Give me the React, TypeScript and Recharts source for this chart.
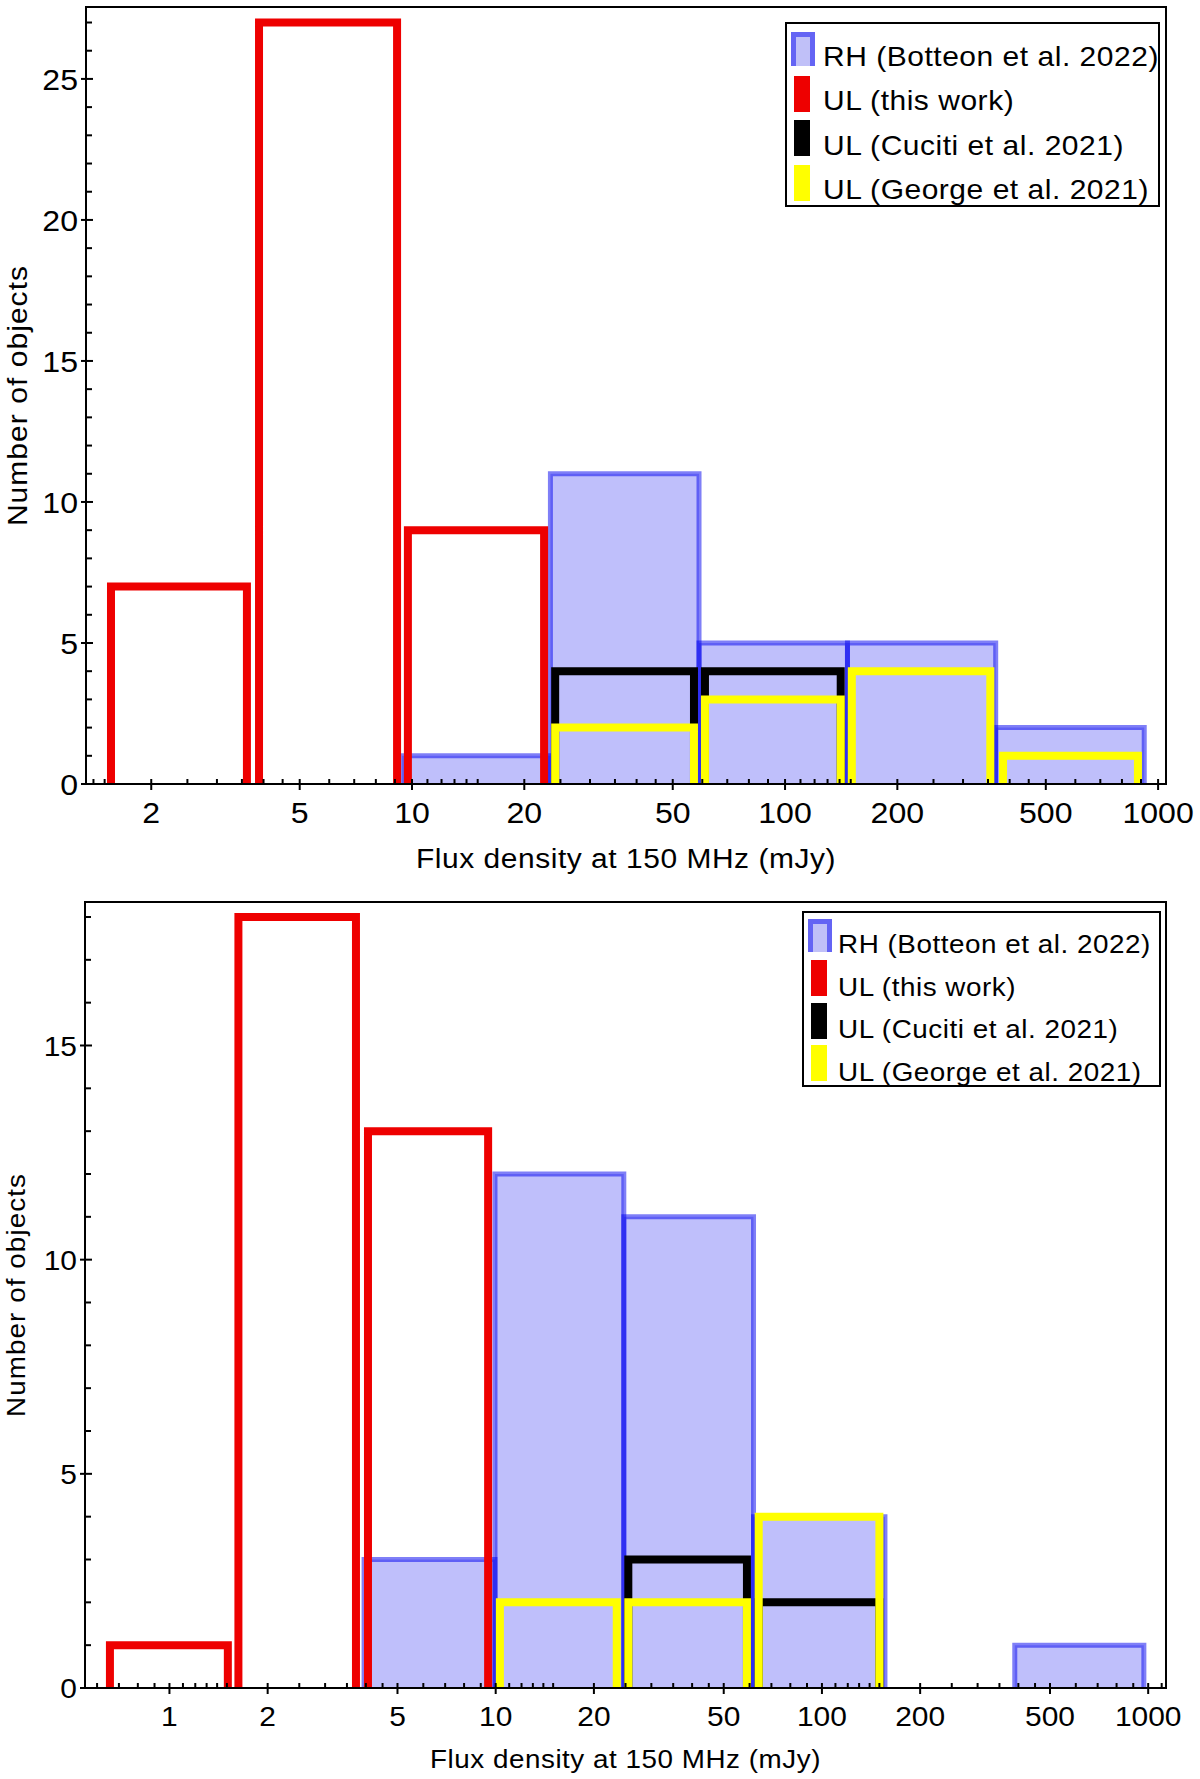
import React from "react";
import { Area, ComposedChart, Legend, Line, ReferenceArea, XAxis, YAxis } from "recharts";

// each bin: [from (mJy), to (mJy), number of objects]
type Bin = [number, number, number];

// upper panel
const TOP_RH: Bin[] = [[9.4, 23.5, 1], [23.5, 58.8, 11], [58.8, 147, 5], [147, 367, 5], [367, 918, 2]];
const TOP_UL_THIS: Bin[] = [[1.56, 3.61, 7], [3.89, 9.12, 27], [9.75, 22.6, 9]];
const TOP_UL_CUCITI: Bin[] = [[24.2, 57, 4], [61, 141, 4]];
const TOP_UL_GEORGE: Bin[] = [[24.2, 57, 2], [61, 141, 3], [151, 355, 4], [384, 883, 1]];

// lower panel
const BOT_RH: Bin[] = [[3.95, 9.95, 3], [9.95, 24.7, 12], [24.7, 61.7, 11], [61.7, 156, 4], [390, 970, 1]];
const BOT_UL_THIS: Bin[] = [[0.657, 1.51, 1], [1.627, 3.73, 18], [4.06, 9.48, 13]];
const BOT_UL_CUCITI: Bin[] = [[25.5, 58.9, 3], [64, 150, 2]];
const BOT_UL_GEORGE: Bin[] = [[10.3, 23.5, 2], [25.5, 58.9, 2], [64, 150, 4]];

const TOP_X_DOMAIN = [1.337, 1050];
const BOT_X_DOMAIN = [0.551, 1134];
const TOP_Y_MAX = 27.55;
const BOT_Y_MAX = 18.35;

const TOP_X_TICKS = [
  1.4, 1.5, 2, 2.5, 3, 3.5, 4, 4.5, 5, 6, 7, 8, 9, 10, 11, 12, 13, 14, 15, 20, 25, 30, 35, 40, 45, 50,
  60, 70, 80, 90, 100, 110, 120, 130, 140, 150, 200, 250, 300, 350, 400, 450, 500, 600, 700, 800, 900, 1000,
];
const BOT_X_TICKS = [
  0.6, 0.7, 0.8, 0.9, 1, 1.1, 1.2, 1.3, 1.4, 1.5, 2, 2.5, 3, 3.5, 4, 4.5, 5, 6, 7, 8, 9, 10, 11, 12, 13, 14,
  15, 20, 25, 30, 35, 40, 45, 50, 60, 70, 80, 90, 100, 110, 120, 130, 140, 150, 200, 250, 300, 350, 400,
  450, 500, 600, 700, 800, 900, 1000, 1100,
];
const X_LABELED = [1, 2, 5, 10, 20, 50, 100, 200, 500, 1000];
const TOP_Y_TICKS = [0, 1, 2, 3, 4, 5, 6, 7, 8, 9, 10, 11, 12, 13, 14, 15, 16, 17, 18, 19, 20, 21, 22, 23, 24, 25, 26, 27];
const BOT_Y_TICKS = [0, 1, 2, 3, 4, 5, 6, 7, 8, 9, 10, 11, 12, 13, 14, 15, 16, 17, 18];

const LEGEND_LABELS = [
  "RH (Botteon et al. 2022)",
  "UL (this work)",
  "UL (Cuciti et al. 2021)",
  "UL (George et al. 2021)",
];

const X_TITLE = "Flux density at 150 MHz (mJy)";
const Y_TITLE = "Number of objects";

const FONT = '"Liberation Sans", Arial, Helvetica, sans-serif';
const STRETCH = 1.07; // the original lettering is a little wide
const RH_COLOR = "#0000f0";
const THIS_COLOR = "#ee0000";
const CUCITI_COLOR = "#000000";
const GEORGE_COLOR = "#ffff00";

const TOP_LAYOUT = {
  height: 880,
  marginTop: 7,
  yAxisWidth: 86,
  xAxisHeight: 96,
  tickFont: 30,
  titleFont: 28,
  titleSpacing: 0.5,
  yTitleSpacing: 1,
  tickBase: 39,
  titleBase: 84,
  yTitleX: 17,
  legend: { left: 785, top: 22, width: 375, height: 185, blueTop: 8, firstTop: 52, gap: 44.3, textLeft: 36, textMid: 33, blueH: 34 },
};

const BOT_LAYOUT = {
  height: 899,
  marginTop: 22,
  yAxisWidth: 85,
  xAxisHeight: 91,
  tickFont: 28,
  titleFont: 26,
  titleSpacing: 0.5,
  yTitleSpacing: 1,
  tickBase: 38,
  titleBase: 80,
  yTitleX: 16,
  legend: { left: 802, top: 31, width: 359, height: 176, blueTop: 6, firstTop: 47, gap: 42.5, textLeft: 34, textMid: 31, blueH: 33 },
};

// three-sided outline of one bar (open at the bottom)
function barOutline(bin: Bin) {
  const [from, to, count] = bin;
  return [
    { x: from, y: 0 },
    { x: from, y: count },
    { x: to, y: count },
    { x: to, y: 0 },
  ];
}

// outlines of all bars of a histogram, broken between bars
function histOutline(bins: Bin[]) {
  const points: { x: number; y: number | null }[] = [];
  bins.forEach((bin, i) => {
    if (i > 0) points.push({ x: bin[0], y: null });
    points.push(...barOutline(bin));
  });
  return points;
}

function SText({ x, y, dy = 0, anchor, size, spacing = 0, rotate = false, children }: any) {
  const transform = `translate(${x},${y})${rotate ? " rotate(-90)" : ""} scale(${STRETCH},1)`;
  return (
    <text
      transform={transform}
      x={0}
      y={dy}
      textAnchor={anchor}
      fontSize={size}
      letterSpacing={spacing}
      fontFamily={FONT}
      fill="#000"
    >
      {children}
    </text>
  );
}

function XTick(props: any) {
  const { x, y, payload, layout } = props;
  const value = payload.value;
  const major = X_LABELED.includes(value);
  return (
    <g>
      <line x1={x} x2={x} y1={y - 5} y2={major ? y + 6 : y} stroke="#000" strokeWidth={2} />
      {major && (
        <SText x={x} y={y + layout.tickBase} anchor="middle" size={layout.tickFont}>
          {value}
        </SText>
      )}
    </g>
  );
}

function YTick(props: any) {
  const { x, y, payload, layout } = props;
  const value = payload.value;
  const major = value % 5 === 0;
  return (
    <g>
      <line x1={major ? x - 5 : x} x2={x + (major ? 7 : 6)} y1={y} y2={y} stroke="#000" strokeWidth={2} />
      {major && (
        <SText x={x - 8} y={y + layout.tickFont * 0.36} anchor="end" size={layout.tickFont}>
          {value}
        </SText>
      )}
    </g>
  );
}

function XTitle(props: any) {
  const { viewBox, layout } = props;
  const vb = viewBox || { x: 86, y: 784, width: 1080, height: 96 };
  return (
    <SText
      x={vb.x + vb.width / 2}
      y={vb.y + layout.titleBase}
      anchor="middle"
      size={layout.titleFont}
      spacing={layout.titleSpacing}
    >
      {X_TITLE}
    </SText>
  );
}

function YTitle(props: any) {
  const { viewBox, layout } = props;
  const vb = viewBox || { x: 0, y: 7, width: 86, height: 777 };
  return (
    <SText
      x={vb.x + layout.yTitleX}
      y={vb.y + vb.height / 2}
      dy={layout.titleFont * 0.36}
      rotate
      anchor="middle"
      size={layout.titleFont}
      spacing={layout.yTitleSpacing}
    >
      {Y_TITLE}
    </SText>
  );
}

function LegendBox({ layout }: { layout: typeof TOP_LAYOUT }) {
  const L = layout.legend;
  const swatchColors = [THIS_COLOR, CUCITI_COLOR, GEORGE_COLOR];
  return (
    <div
      style={{
        position: "relative",
        width: L.width,
        height: L.height,
        boxSizing: "border-box",
        border: "2px solid #000",
        background: "#fff",
        fontFamily: FONT,
      }}
    >
      <div
        style={{
          position: "absolute",
          left: 4,
          top: L.blueTop,
          width: 24,
          height: L.blueH,
          boxSizing: "border-box",
          borderLeft: "5px solid #6464f4",
          borderTop: "5px solid #6464f4",
          borderRight: "5px solid #6464f4",
          background: "#c0c0f8",
        }}
      />
      {swatchColors.map((color, i) => (
        <div
          key={color}
          style={{ position: "absolute", left: 7, top: L.firstTop + i * L.gap, width: 16, height: 36, background: color }}
        />
      ))}
      {LEGEND_LABELS.map((label, i) => (
        <span
          key={label}
          style={{
            position: "absolute",
            left: L.textLeft,
            top: L.textMid + i * L.gap,
            transform: `translateY(-50%) scaleX(${STRETCH})`,
            transformOrigin: "left center",
            lineHeight: 1,
            fontSize: layout.titleFont,
            letterSpacing: layout.titleSpacing,
            whiteSpace: "nowrap",
            color: "#000",
          }}
        >
          {label}
        </span>
      ))}
    </div>
  );
}

type PanelProps = {
  layout: typeof TOP_LAYOUT;
  rh: Bin[];
  ulThis: Bin[];
  ulCuciti: Bin[];
  ulGeorge: Bin[];
  xDomain: number[];
  yMax: number;
  xTicks: number[];
  yTicks: number[];
};

function Panel({ layout, rh, ulThis, ulCuciti, ulGeorge, xDomain, yMax, xTicks, yTicks }: PanelProps) {
  const L = layout.legend;
  return (
    <ComposedChart width={1200} height={layout.height} margin={{ top: layout.marginTop, right: 34, bottom: 0, left: 0 }}>
      {rh.map((bin, i) => (
        <Area
          key={`rh-${i}`}
          data={barOutline(bin)}
          dataKey="y"
          type="linear"
          baseValue={0}
          fill={RH_COLOR}
          fillOpacity={0.25}
          stroke={RH_COLOR}
          strokeOpacity={0.5}
          strokeWidth={5}
          dot={false}
          activeDot={false}
          isAnimationActive={false}
        />
      ))}
      <Line
        data={histOutline(ulThis)}
        dataKey="y"
        type="linear"
        stroke={THIS_COLOR}
        strokeWidth={8}
        connectNulls={false}
        dot={false}
        activeDot={false}
        isAnimationActive={false}
      />
      <Line
        data={histOutline(ulCuciti)}
        dataKey="y"
        type="linear"
        stroke={CUCITI_COLOR}
        strokeWidth={8}
        connectNulls={false}
        dot={false}
        activeDot={false}
        isAnimationActive={false}
      />
      <Line
        data={histOutline(ulGeorge)}
        dataKey="y"
        type="linear"
        stroke={GEORGE_COLOR}
        strokeWidth={8}
        connectNulls={false}
        dot={false}
        activeDot={false}
        isAnimationActive={false}
      />
      {/* plot frame */}
      <ReferenceArea
        x1={xDomain[0]}
        x2={xDomain[1]}
        y1={0}
        y2={yMax}
        fill="none"
        fillOpacity={0}
        stroke="#000"
        strokeWidth={2}
        ifOverflow="visible"
      />
      <XAxis
        dataKey="x"
        type="number"
        scale="log"
        domain={xDomain}
        allowDataOverflow
        ticks={xTicks}
        interval={0}
        height={layout.xAxisHeight}
        tickSize={0}
        tickMargin={0}
        tickLine={false}
        axisLine={{ stroke: "#000", strokeWidth: 2 }}
        tick={(p: any) => <XTick {...p} layout={layout} />}
        label={<XTitle layout={layout} />}
      />
      <YAxis
        type="number"
        domain={[0, yMax]}
        allowDataOverflow
        ticks={yTicks}
        interval={0}
        width={layout.yAxisWidth}
        tickSize={0}
        tickMargin={0}
        tickLine={false}
        axisLine={{ stroke: "#000", strokeWidth: 2 }}
        tick={(p: any) => <YTick {...p} layout={layout} />}
        label={<YTitle layout={layout} />}
      />
      <Legend
        layout="horizontal"
        align="center"
        verticalAlign="middle"
        content={() => <LegendBox layout={layout} />}
        wrapperStyle={{ position: "absolute", left: L.left, top: L.top, width: L.width, height: L.height, margin: 0, padding: 0 }}
      />
    </ComposedChart>
  );
}

export default function App() {
  return (
    <div style={{ position: "absolute", left: 0, top: 0, width: 1200, height: 1779, background: "#fff", fontFamily: FONT }}>
      <div style={{ position: "absolute", left: 0, top: 0 }}>
        <Panel
          layout={TOP_LAYOUT}
          rh={TOP_RH}
          ulThis={TOP_UL_THIS}
          ulCuciti={TOP_UL_CUCITI}
          ulGeorge={TOP_UL_GEORGE}
          xDomain={TOP_X_DOMAIN}
          yMax={TOP_Y_MAX}
          xTicks={TOP_X_TICKS}
          yTicks={TOP_Y_TICKS}
        />
      </div>
      <div style={{ position: "absolute", left: 0, top: 880 }}>
        <Panel
          layout={BOT_LAYOUT}
          rh={BOT_RH}
          ulThis={BOT_UL_THIS}
          ulCuciti={BOT_UL_CUCITI}
          ulGeorge={BOT_UL_GEORGE}
          xDomain={BOT_X_DOMAIN}
          yMax={BOT_Y_MAX}
          xTicks={BOT_X_TICKS}
          yTicks={BOT_Y_TICKS}
        />
      </div>
    </div>
  );
}
